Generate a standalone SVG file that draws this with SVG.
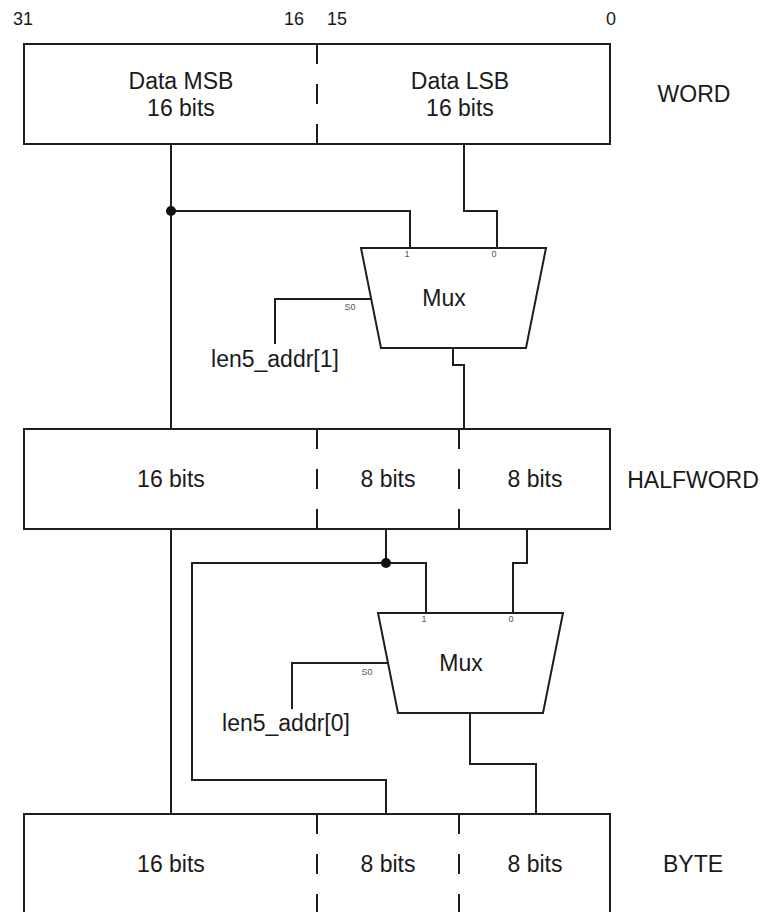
<svg xmlns="http://www.w3.org/2000/svg" width="764" height="912" viewBox="0 0 764 912">
  <style>
    .box { fill: #ffffff; stroke: #1f1f1f; stroke-width: 2; }
    .div { fill: none; stroke: #1f1f1f; stroke-width: 2; stroke-dasharray: 20 20; }
    .wire { fill: none; stroke: #1f1f1f; stroke-width: 2; stroke-linejoin: miter; }
    .mux { fill: #ffffff; stroke: #1f1f1f; stroke-width: 2; stroke-linejoin: miter; }
    .dot { fill: #111111; }
    .lbl { font-family: "Liberation Sans", Arial, sans-serif; font-size: 23px; fill: #1a1a1a; text-anchor: middle; }
    .bit { font-family: "Liberation Sans", Arial, sans-serif; font-size: 18px; fill: #1a1a1a; text-anchor: middle; }
    .port { font-family: "Liberation Sans", Arial, sans-serif; font-size: 9px; fill: #555555; text-anchor: middle; }
  </style>

  <!-- bit positions -->
  <g id="bit-numbers">
    <text class="bit" x="23" y="25">31</text>
    <text class="bit" x="294" y="25">16</text>
    <text class="bit" x="337" y="25">15</text>
    <text class="bit" x="611" y="25">0</text>
  </g>

  <!-- connectors -->
  <g id="connectors">
    <!-- word to halfword -->
    <path class="wire" d="M171,144 V429"/>
    <path class="wire" d="M171,211 H410 V248"/>
    <path class="wire" d="M464,144 V211 H497 V248"/>
    <path class="wire" d="M453,348 V365 H464 V429"/>
    <path class="wire" d="M371,299 H275 V344"/>
    <!-- halfword to byte -->
    <path class="wire" d="M171,529 V814"/>
    <path class="wire" d="M386,529 V563"/>
    <path class="wire" d="M426,613 V563 H192 V780 H386 V814"/>
    <path class="wire" d="M527,529 V563 H513 V613"/>
    <path class="wire" d="M470,713 V764 H536 V814"/>
    <path class="wire" d="M388,663 H292 V709"/>
    <circle class="dot" cx="171" cy="211" r="5"/>
    <circle class="dot" cx="386" cy="563" r="5"/>
  </g>

  <!-- 32-bit word -->
  <g id="word">
    <rect class="box" x="24" y="44" width="586" height="100"/>
    <line class="div" x1="317" y1="44" x2="317" y2="144"/>
    <text class="lbl" x="181" y="89">Data MSB</text>
    <text class="lbl" x="181" y="116">16 bits</text>
    <text class="lbl" x="460" y="89">Data LSB</text>
    <text class="lbl" x="460" y="116">16 bits</text>
    <text class="lbl" x="694" y="102">WORD</text>
  </g>

  <!-- halfword select mux -->
  <g id="mux-halfword">
    <polygon class="mux" points="361,248 546,248 526,348 381,348"/>
    <text class="lbl" x="444" y="306">Mux</text>
    <text class="port" x="407" y="257">1</text>
    <text class="port" x="494" y="257">0</text>
    <text class="port" x="350" y="310">S0</text>
    <text class="lbl" x="275" y="367">len5_addr[1]</text>
  </g>

  <!-- halfword -->
  <g id="halfword">
    <rect class="box" x="24" y="429" width="586" height="100"/>
    <line class="div" x1="317" y1="429" x2="317" y2="529"/>
    <line class="div" x1="459" y1="429" x2="459" y2="529"/>
    <text class="lbl" x="171" y="487">16 bits</text>
    <text class="lbl" x="388" y="487">8 bits</text>
    <text class="lbl" x="535" y="487">8 bits</text>
    <text class="lbl" x="693" y="488">HALFWORD</text>
  </g>

  <!-- byte select mux -->
  <g id="mux-byte">
    <polygon class="mux" points="378,613 563,613 543,713 398,713"/>
    <text class="lbl" x="461" y="671">Mux</text>
    <text class="port" x="424" y="622">1</text>
    <text class="port" x="511" y="622">0</text>
    <text class="port" x="367" y="675">S0</text>
    <text class="lbl" x="286" y="731">len5_addr[0]</text>
  </g>

  <!-- byte -->
  <g id="byte">
    <rect class="box" x="24" y="814" width="586" height="100"/>
    <line class="div" x1="317" y1="814" x2="317" y2="914"/>
    <line class="div" x1="459" y1="814" x2="459" y2="914"/>
    <text class="lbl" x="171" y="872">16 bits</text>
    <text class="lbl" x="388" y="872">8 bits</text>
    <text class="lbl" x="535" y="872">8 bits</text>
    <text class="lbl" x="693" y="872">BYTE</text>
  </g>
</svg>
